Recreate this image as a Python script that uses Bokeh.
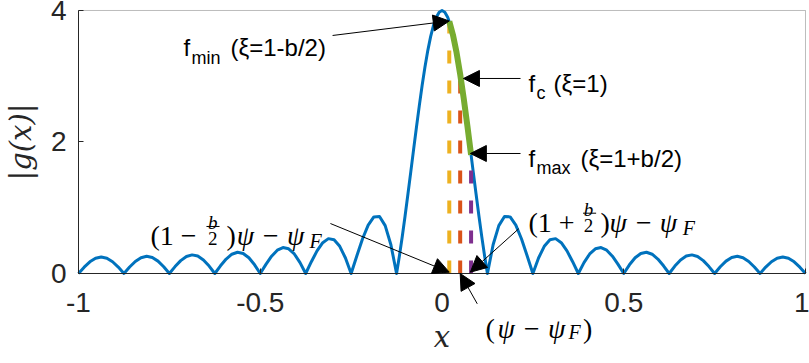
from bokeh.plotting import figure
from bokeh.models import (FixedTicker, LinearAxis, Label, Arrow, NormalHead, ColumnDataSource,
                          Range1d, BoxAnnotation)
from bokeh.embed import file_html
from bokeh.resources import INLINE

# |g(x)|
x_vals = [
    -1.0, -0.9844, -0.9688, -0.9531, -0.9375, -0.9219, -0.9063, -0.8906, -0.875,
    -0.8594, -0.8438, -0.8281, -0.8125, -0.7969, -0.7813, -0.7656, -0.75,
    -0.7344, -0.7188, -0.7031, -0.6875, -0.6719, -0.6563, -0.6406, -0.625,
    -0.6094, -0.5938, -0.5781, -0.5625, -0.5469, -0.5313, -0.5156, -0.5,
    -0.4844, -0.4688, -0.4531, -0.4375, -0.4219, -0.4063, -0.3906, -0.375,
    -0.3594, -0.3438, -0.3281, -0.3125, -0.2969, -0.2813, -0.2656, -0.25,
    -0.2344, -0.2188, -0.2031, -0.1875, -0.1719, -0.1563, -0.1406, -0.125,
    -0.1172, -0.1094, -0.1016, -0.0938, -0.0859, -0.0781, -0.0703, -0.0625,
    -0.0547, -0.0469, -0.0391, -0.0313, -0.0234, -0.0156, -0.0078, 0.0,
    0.0078, 0.0156, 0.0234, 0.0313, 0.0391, 0.0469, 0.0547, 0.0625,
    0.0703, 0.0781, 0.0859, 0.0938, 0.1016, 0.1094, 0.1172,
    0.125, 0.1406, 0.1563, 0.1719, 0.1875, 0.2031, 0.2188, 0.2344, 0.25,
    0.2656, 0.2813, 0.2969, 0.3125, 0.3281, 0.3438, 0.3594, 0.375,
    0.3906, 0.4063, 0.4219, 0.4375, 0.4531, 0.4688, 0.4844, 0.5,
    0.5156, 0.5313, 0.5469, 0.5625, 0.5781, 0.5938, 0.6094, 0.625,
    0.6406, 0.6563, 0.6719, 0.6875, 0.7031, 0.7188, 0.7344, 0.75,
    0.7656, 0.7813, 0.7969, 0.8125, 0.8281, 0.8438, 0.8594, 0.875,
    0.8906, 0.9063, 0.9219, 0.9375, 0.9531, 0.9688, 0.9844, 1.0,
]
g_vals = [
    0.0, 0.096, 0.177, 0.232, 0.251, 0.233, 0.179, 0.097, 0.0,
    0.098, 0.182, 0.240, 0.261, 0.243, 0.188, 0.103, 0.0,
    0.105, 0.196, 0.259, 0.283, 0.265, 0.206, 0.113, 0.0,
    0.117, 0.220, 0.293, 0.323, 0.305, 0.239, 0.132, 0.0,
    0.139, 0.263, 0.354, 0.394, 0.375, 0.297, 0.166, 0.0,
    0.179, 0.344, 0.469, 0.530, 0.514, 0.413, 0.236, 0.0,
    0.266, 0.525, 0.736, 0.861, 0.866, 0.728, 0.437, 0.0,
    0.266, 0.560, 0.874, 1.205, 1.545, 1.887, 2.225, 2.550,
    2.858, 3.140, 3.390, 3.603, 3.774, 3.899, 3.974, 4.0,
    3.974, 3.899, 3.774, 3.603, 3.390, 3.140, 2.858, 2.550,
    2.225, 1.887, 1.545, 1.205, 0.874, 0.560, 0.266,
    0.0, 0.437, 0.728, 0.866, 0.861, 0.736, 0.525, 0.266, 0.0,
    0.236, 0.413, 0.514, 0.530, 0.469, 0.344, 0.179, 0.0,
    0.166, 0.297, 0.375, 0.394, 0.354, 0.263, 0.139, 0.0,
    0.132, 0.239, 0.305, 0.323, 0.293, 0.220, 0.117, 0.0,
    0.113, 0.206, 0.265, 0.283, 0.259, 0.196, 0.105, 0.0,
    0.103, 0.188, 0.243, 0.261, 0.240, 0.182, 0.098, 0.0,
    0.097, 0.179, 0.233, 0.251, 0.232, 0.177, 0.096, 0.0,
]

# highlighted band (f_min .. f_max)
band_x = [0.02, 0.03, 0.04, 0.05, 0.06, 0.07, 0.08]
band_g = [3.835, 3.632, 3.362, 3.030, 2.651, 2.238, 1.805]

# dashed markers at f_min, f_c, f_max
marker_x = [0.02, 0.05, 0.08]
marker_base = [0.0, 0.0, 0.0]
marker_top = [3.835, 3.030, 1.805]
marker_colors = ["#EDB120", "#D95319", "#7E2F8E"]

x_ticks = [-1, -0.5, 0, 0.5, 1]
x_tick_labels = ["-1", "-0.5", "0", "0.5", "1"]
y_ticks = [0, 2, 4]
y_tick_labels = ["0", "2", "4"]

AX = "#262626"

# the frame fills the whole page so that annotations below the axis are not clipped;
# the axes are pinned at x=-1 and y=0 and bounded to the data box
p = figure(width=809, height=363, x_range=Range1d(-1.2146, 1.0110), y_range=Range1d(-1.369, 4.152),
           output_backend="svg", toolbar_location=None, min_border=0,
           x_axis_location=None, y_axis_location=None)
p.grid.visible = False
p.outline_line_color = None

xa = LinearAxis(fixed_location=0, bounds=(-1, 1), ticker=FixedTicker(ticks=x_ticks))
ya = LinearAxis(fixed_location=-1, bounds=(0, 4), ticker=FixedTicker(ticks=y_ticks))
xa.major_label_overrides = {t: l for t, l in zip(x_ticks, x_tick_labels)}
ya.major_label_overrides = {t: l for t, l in zip(y_ticks, y_tick_labels)}
for ax in (xa, ya):
    ax.major_tick_in = 5
    ax.major_tick_out = 0
    ax.minor_tick_in = 0
    ax.minor_tick_out = 0
    ax.axis_line_color = AX
    ax.major_tick_line_color = AX
    ax.major_label_text_font = "Liberation Sans"
    ax.major_label_text_font_size = "28px"
    ax.major_label_text_color = AX
    ax.axis_label_text_font = "DejaVu Serif"
    ax.axis_label_text_font_style = "italic"
    ax.axis_label_text_font_size = "29px"
    ax.axis_label_text_color = AX
xa.major_label_standoff = 20
ya.major_label_standoff = 12
xa.axis_label = "x"
xa.axis_label_standoff = 4
ya.axis_label = "|g(x)|"
ya.axis_label_standoff = 10
p.add_layout(xa, "below")
p.add_layout(ya, "left")

# box (top and right edges)
p.add_layout(BoxAnnotation(left=-1, right=1, bottom=0, top=4, fill_alpha=0,
                           line_color=AX, line_width=1, level="underlay"))

p.line(x_vals, g_vals, line_color="#0072BD", line_width=3, line_join="round")

msrc = ColumnDataSource(dict(x=marker_x, y0=marker_base, y1=marker_top, c=marker_colors))
p.segment(x0="x", y0="y0", x1="x", y1="y1", line_color="c", line_width=4,
          line_dash="13 17", source=msrc)

p.line(band_x, band_g, line_color="#77AC30", line_width=6, line_join="round")

SANS = "Liberation Sans"
SERIF = "Liberation Serif"


def lab(x, y, text, font=SANS, size="24px", style="normal", align="left"):
    p.add_layout(Label(x=x, y=y, text=text, text_font=font, text_font_size=size,
                       text_font_style=style, text_baseline="alphabetic",
                       text_align=align, text_color="black"))


def arrow(x0, y0, x1, y1, head=True):
    h = NormalHead(size=16, fill_color="black", line_color="black", line_width=1) if head else None
    p.add_layout(Arrow(end=h, x_start=x0, y_start=y0, x_end=x1, y_end=y1,
                       line_color="black", line_width=1))


# f labels
lab(-0.711, 3.437, "f")
lab(-0.689, 3.285, "min", size="18px")
lab(-0.582, 3.437, "(\u03be=1-b/2)")
arrow(-0.301, 3.62, 0.02, 3.84)

lab(0.238, 2.890, "f")
lab(0.260, 2.738, "c", size="18px")
lab(0.307, 2.890, "(\u03be=1)")
arrow(0.216, 2.966, 0.059, 2.966)

lab(0.238, 1.749, "f")
lab(0.260, 1.612, "max", size="18px")
lab(0.381, 1.749, "(\u03be=1+b/2)")
arrow(0.216, 1.825, 0.078, 1.825)

# (1 - b/2) psi - psi_F
lab(-0.802, 0.578, "(1 \u2212", font=SERIF, size="28px")
lab(-0.631, 0.776, "b", font=SERIF, size="19px", style="italic", align="center")
arrow(-0.648, 0.715, -0.612, 0.715, head=False)
lab(-0.631, 0.525, "2", font=SERIF, size="19px", align="center")
lab(-0.593, 0.578, ")", font=SERIF, size="28px")
lab(-0.565, 0.578, "\u03c8 \u2212 \u03c8", font=SERIF, size="28px", style="italic")
lab(-0.3645, 0.494, "F", font=SERIF, size="20px", style="italic")
arrow(-0.307, 0.760, 0.02, 0.02)

# (1 + b/2) psi - psi_F
lab(0.238, 0.780, "(1 +", font=SERIF, size="28px")
lab(0.403, 0.978, "b", font=SERIF, size="19px", style="italic", align="center")
arrow(0.388, 0.917, 0.424, 0.917, head=False)
lab(0.403, 0.727, "2", font=SERIF, size="19px", align="center")
lab(0.436, 0.780, ")", font=SERIF, size="28px")
lab(0.461, 0.780, "\u03c8 \u2212 \u03c8", font=SERIF, size="28px", style="italic")
lab(0.662, 0.697, "F", font=SERIF, size="20px", style="italic")
arrow(0.211, 0.680, 0.078, 0.02)

# (psi - psi_F)
lab(0.120, -0.837, "(", font=SERIF, size="28px")
lab(0.153, -0.837, "\u03c8 \u2212 \u03c8", font=SERIF, size="28px", style="italic")
lab(0.348, -0.897, "F", font=SERIF, size="20px", style="italic")
lab(0.388, -0.837, ")", font=SERIF, size="28px")
arrow(0.097, -0.461, 0.05, 0.0)

open("out.html", "w").write(file_html(p, INLINE))
